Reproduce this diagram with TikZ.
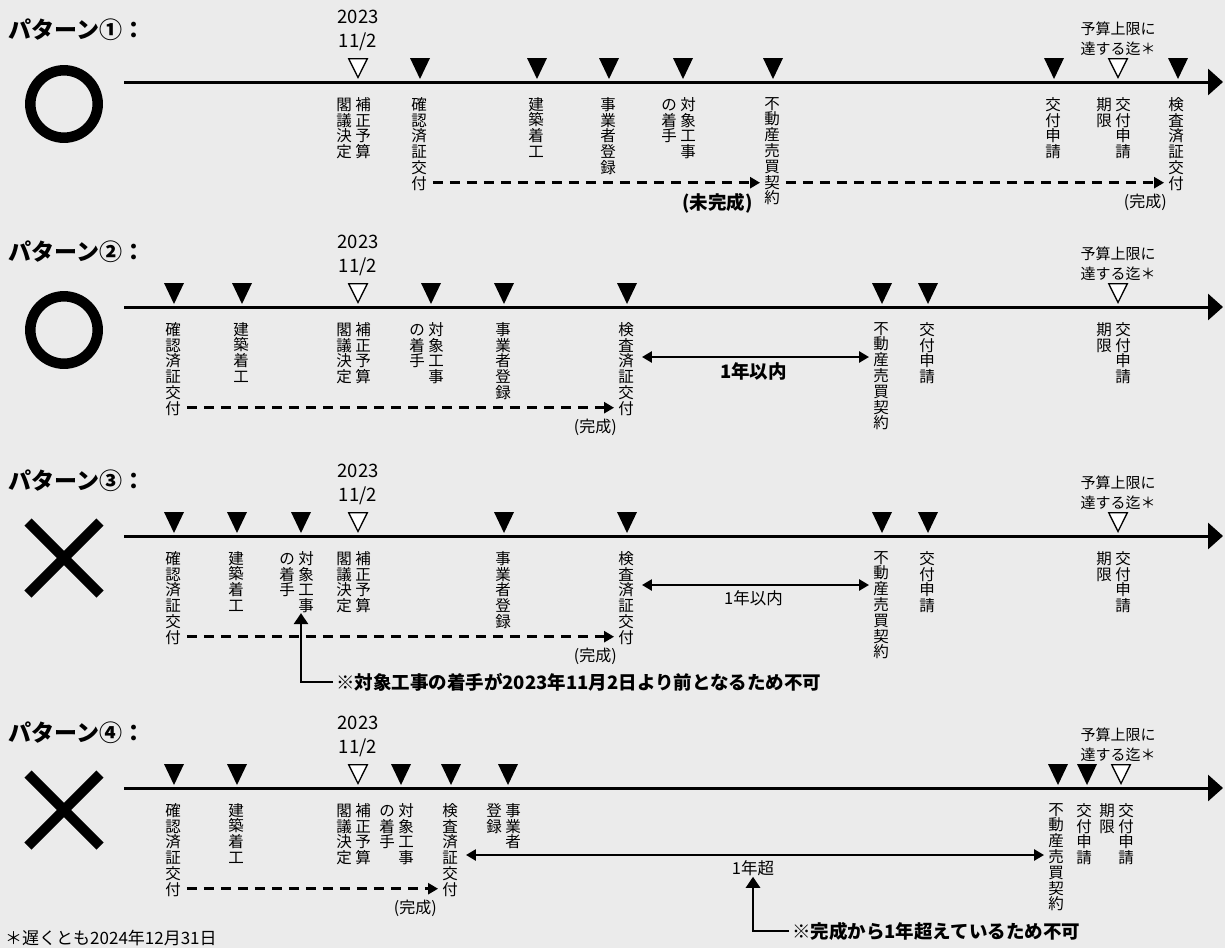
\documentclass[tikz,border=0pt]{standalone}
\usepackage{fontspec}
\setmainfont{Noto Sans CJK JP}
\usetikzlibrary{arrows.meta, positioning, calc}

\definecolor{paper}{HTML}{EBEBEB}

% vertical (tategaki) labels: one character per line
\makeatletter
\newcommand{\tate}[1]{\vtop{\baselineskip=15.8pt\lineskiplimit=-10pt\@tfor\tch:=#1\do{\hbox to 15.5pt{\hss\tch\hss}}}}
\makeatother
\newcommand{\tatetwo}[2]{\tate{#1}\kern3.5pt\tate{#2}}

\begin{document}
\begin{tikzpicture}[
    x=1pt, y=-1pt,
    axis/.style={line width=3pt, -{Triangle[length=15pt,width=26pt]}},
    lbl/.style={inner sep=0pt, anchor=north, font=\fontsize{15.5pt}{15.8pt}\selectfont},
    title/.style={anchor=west, inner sep=0pt, font=\fontsize{23pt}{25pt}\selectfont\bfseries},
    date/.style={align=center, inner sep=0pt, font=\fontsize{18.5pt}{24pt}\selectfont},
    limit/.style={align=center, inner sep=0pt, font=\fontsize{15pt}{20pt}\selectfont},
    ring/.style={circle, draw, line width=10.5pt, minimum size=67.4pt, inner sep=0pt},
    dsh/.style={line width=2.6pt, dash pattern=on 10pt off 7pt, -{Triangle[length=10pt,width=11pt]}, shorten <=6pt, shorten >=4pt},
    span/.style={line width=2.5pt, {Triangle[length=10pt,width=11pt]}-{Triangle[length=10pt,width=11pt]}, shorten <=8pt, shorten >=4pt},
    note/.style={line width=2.6pt, -{Triangle[length=11pt,width=14pt]}},
    done/.style={anchor=north east, inner sep=0pt, yshift=-10pt, font=\fontsize{16pt}{18pt}\selectfont},
    small/.style={inner sep=0pt, font=\fontsize{16.5pt}{18pt}\selectfont},
    bold/.style={inner sep=0pt, font=\fontsize{18.5pt}{21pt}\selectfont\bfseries},
    mk/.pic={\fill (-10,-24) -- (10,-24) -- (0,-3) -- cycle;},
    mko/.pic={\filldraw[fill=white, line width=1.3pt] (-9.3,-23.3) -- (9.3,-23.3) -- (0,-4.5) -- cycle;},
    ng/.pic={\draw[line width=10pt] (-36,-36) -- (36,36) (-36,36) -- (36,-36);}
]
    \fill[paper] (0,0) rectangle (1225,948);

    % pattern 1
    \node[title] (pat1) at (8,30) {パターン①：};
    \node[ring] (ok1) at (64,104) {};
    \coordinate (s1) at (124,82);
    \coordinate (e1) at (1223,82);
    \draw[axis] (s1) -- (e1);
    \node[date] (date1) at (358,30) {2023\\11/2};
    \node[limit] (cap1) at (1118,39) {予算上限に\\達する迄＊};
    \foreach \x in {420,537,609,683,773,1054,1178} \pic at (\x,82) {mk};
    \foreach \x in {358,1118} \pic at (\x,82) {mko};
    \node[lbl] (budget1) at (353.5,97) {\tatetwo{閣議決定}{補正予算}};
    \node[lbl] (conf1) at (419,97) {\tate{確認済証交付}};
    \node[lbl] (build1) at (536,97) {\tate{建築着工}};
    \node[lbl] (reg1) at (608,97) {\tate{事業者登録}};
    \node[lbl] (start1) at (678.5,97) {\tatetwo{の着手}{対象工事}};
    \node[lbl] (sale1) at (772,97) {\tate{不動産売買契約}};
    \node[lbl] (apply1) at (1053,97) {\tate{交付申請}};
    \node[lbl] (due1) at (1113.5,97) {\tatetwo{期限}{交付申請}};
    \node[lbl] (insp1) at (1176,97) {\tate{検査済証交付}};
    \coordinate (d1) at ([yshift=8pt]conf1.south east);
    \draw[dsh] (d1) -- (d1 -| sale1.west) node[done, bold, xshift=-10pt, yshift=1pt] {(未完成)};
    \draw[dsh] (d1 -| sale1.east) -- (d1 -| insp1.west) node[done] {(完成)};

    % pattern 2
    \node[title] (pat2) at (8,252) {パターン②：};
    \node[ring] (ok2) at (64,330) {};
    \coordinate (s2) at (124,307);
    \coordinate (e2) at (1223,307);
    \draw[axis] (s2) -- (e2);
    \node[date] (date2) at (358,255) {2023\\11/2};
    \node[limit] (cap2) at (1118,264) {予算上限に\\達する迄＊};
    \foreach \x in {174,242,431,504,627,882,928} \pic at (\x,307) {mk};
    \foreach \x in {358,1118} \pic at (\x,307) {mko};
    \node[lbl] (conf2) at (173,322) {\tate{確認済証交付}};
    \node[lbl] (build2) at (241,322) {\tate{建築着工}};
    \node[lbl] (budget2) at (353.5,322) {\tatetwo{閣議決定}{補正予算}};
    \node[lbl] (start2) at (426.5,322) {\tatetwo{の着手}{対象工事}};
    \node[lbl] (reg2) at (503,322) {\tate{事業者登録}};
    \node[lbl] (insp2) at (626,322) {\tate{検査済証交付}};
    \node[lbl] (sale2) at (881,322) {\tate{不動産売買契約}};
    \node[lbl] (apply2) at (927,322) {\tate{交付申請}};
    \node[lbl] (due2) at (1113.5,322) {\tatetwo{期限}{交付申請}};
    \coordinate (d2) at ([yshift=8pt]conf2.south east);
    \draw[dsh] (d2) -- (d2 -| insp2.west) node[done] {(完成)};
    \coordinate (y2) at (0,357);
    \draw[span] (insp2.east |- y2) -- (sale2.west |- y2) node[midway, below=4pt, bold] (within2) {1年以内};

    % pattern 3
    \node[title] (pat3) at (8,481) {パターン③：};
    \pic at (64,558) {ng};
    \coordinate (s3) at (124,536);
    \coordinate (e3) at (1223,536);
    \draw[axis] (s3) -- (e3);
    \node[date] (date3) at (358,484) {2023\\11/2};
    \node[limit] (cap3) at (1118,493) {予算上限に\\達する迄＊};
    \foreach \x in {174,237,301,504,627,882,928} \pic at (\x,536) {mk};
    \foreach \x in {358,1118} \pic at (\x,536) {mko};
    \node[lbl] (conf3) at (173,551) {\tate{確認済証交付}};
    \node[lbl] (build3) at (236,551) {\tate{建築着工}};
    \node[lbl] (start3) at (296.5,551) {\tatetwo{の着手}{対象工事}};
    \node[lbl] (budget3) at (353.5,551) {\tatetwo{閣議決定}{補正予算}};
    \node[lbl] (reg3) at (503,551) {\tate{事業者登録}};
    \node[lbl] (insp3) at (626,551) {\tate{検査済証交付}};
    \node[lbl] (sale3) at (881,551) {\tate{不動産売買契約}};
    \node[lbl] (apply3) at (927,551) {\tate{交付申請}};
    \node[lbl] (due3) at (1113.5,551) {\tatetwo{期限}{交付申請}};
    \coordinate (d3) at ([yshift=8pt]conf3.south east);
    \draw[dsh] (d3) -- (d3 -| insp3.west) node[done] {(完成)};
    \coordinate (y3) at (0,585);
    \draw[span] (insp3.east |- y3) -- (sale3.west |- y3) node[midway, below=4pt, small] (within3) {1年以内};
    \node[bold, anchor=west] (note3) at (336,682) {※対象工事の着手が2023年11月2日より前となるため不可};
    \draw[note] ([xshift=-3pt]note3.west) -| ([xshift=4.5pt]start3.south);

    % pattern 4
    \node[title] (pat4) at (8,733) {パターン④：};
    \pic at (64,810) {ng};
    \coordinate (s4) at (124,788);
    \coordinate (e4) at (1223,788);
    \draw[axis] (s4) -- (e4);
    \node[date] (date4) at (358,736) {2023\\11/2};
    \node[limit] (cap4) at (1118,745) {予算上限に\\達する迄＊};
    \foreach \x in {174,237,401,451,508,1058,1087} \pic at (\x,788) {mk};
    \foreach \x in {358,1121} \pic at (\x,788) {mko};
    \node[lbl] (conf4) at (173,803) {\tate{確認済証交付}};
    \node[lbl] (build4) at (236,803) {\tate{建築着工}};
    \node[lbl] (budget4) at (353.5,803) {\tatetwo{閣議決定}{補正予算}};
    \node[lbl] (start4) at (396.5,803) {\tatetwo{の着手}{対象工事}};
    \node[lbl] (insp4) at (450,803) {\tate{検査済証交付}};
    \node[lbl] (reg4) at (503.5,803) {\tatetwo{登録}{事業者}};
    \node[lbl] (sale4) at (1056,803) {\tate{不動産売買契約}};
    \node[lbl] (apply4) at (1084,803) {\tate{交付申請}};
    \node[lbl] (due4) at (1116.5,803) {\tatetwo{期限}{交付申請}};
    \coordinate (d4) at ([yshift=8pt]conf4.south east);
    \draw[dsh] (d4) -- (d4 -| insp4.west) node[done, xshift=-4pt] {(完成)};
    \coordinate (y4) at (0,855);
    \draw[span] (insp4.east |- y4) -- (sale4.west |- y4) node[midway, below=4pt, small] (over4) {1年超};
    \node[bold, anchor=west] (note4) at (792,931) {※完成から1年超えているため不可};
    \draw[note] ([xshift=-3pt]note4.west) -| (over4.south);

    \node[anchor=west, inner sep=0pt, font=\fontsize{17pt}{19pt}\selectfont] (foot) at (5,938) {＊遅くとも2024年12月31日};
\end{tikzpicture}
\end{document}
